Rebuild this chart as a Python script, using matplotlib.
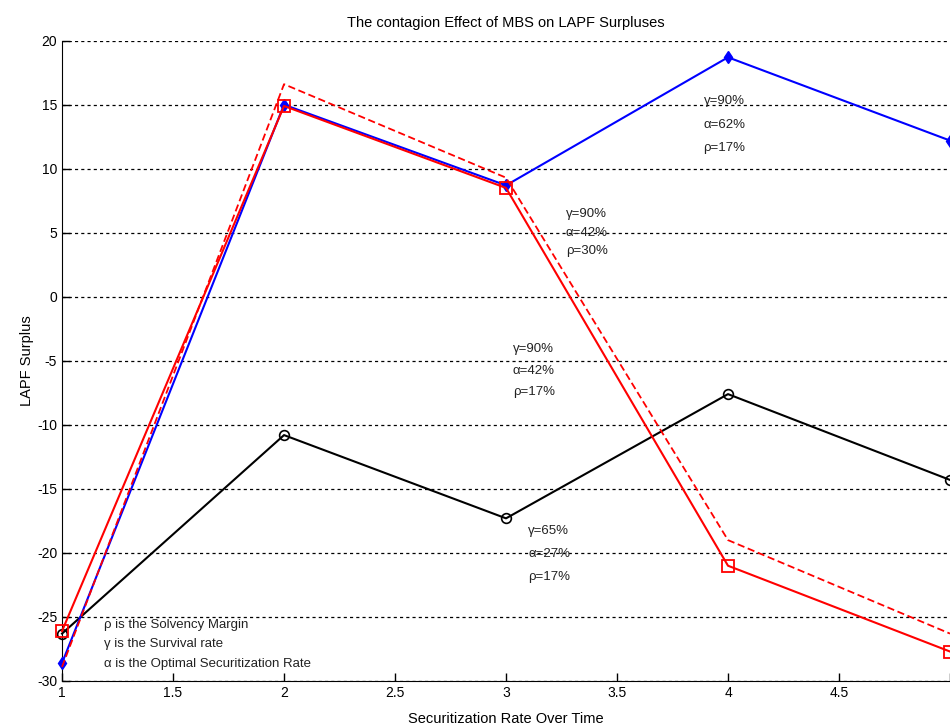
import numpy as np
import matplotlib.pyplot as plt

plt.rcParams['font.family'] = ['Liberation Sans', 'DejaVu Sans']
plt.rcParams['axes.unicode_minus'] = False

x = [1, 2, 3, 4, 5]
blue = [-28.6, 15.0, 8.7, 18.7, 12.2]
red_solid = [-26.1, 14.9, 8.5, -21.0, -27.7]
red_dash = [-28.9, 16.6, 9.3, -19.0, -26.3]
black = [-26.3, -10.8, -17.3, -7.6, -14.3]

notes = [
    (3.89, [15.3, 13.4, 11.6], ["γ=90%", "α=62%", "ρ=17%"]),
    (3.27, [6.5, 5.0, 3.6], ["γ=90%", "α=42%", "ρ=30%"]),
    (3.03, [-4.1, -5.8, -7.4], ["γ=90%", "α=42%", "ρ=17%"]),
    (3.10, [-18.3, -20.1, -21.9], ["γ=65%", "α=27%", "ρ=17%"]),
    (1.19, [-25.6, -27.1, -28.7], ["ρ is the Solvency Margin",
                                   "γ is the Survival rate",
                                   "α is the Optimal Securitization Rate"]),
]

fig = plt.figure(figsize=(9.5, 7.26), dpi=100)
ax = fig.add_axes([0.0653, 0.062, 0.9347, 0.882])

ax.plot(x, black, color="black", lw=1.5, marker="o", ms=7, mfc="none",
        mec="black", mew=1.2, clip_on=False, zorder=3)
ax.plot(x, blue, color="blue", lw=1.5, marker="d", ms=6, mfc="blue",
        mec="blue", clip_on=False, zorder=3)
ax.plot(x, red_solid, color="red", lw=1.5, marker="s", ms=8, mfc="none",
        mec="red", mew=1.3, clip_on=False, zorder=4)
ax.plot(x, red_dash, color="red", lw=1.3, ls="--", dashes=(4, 2),
        clip_on=False, zorder=4)

for xx, ys, lines in notes:
    for yy, t in zip(ys, lines):
        ax.text(xx, yy, t, fontsize=9.5, va="center", ha="left", color="#222222")

ax.set_xlim(1, 5)
ax.set_ylim(-30, 20)
ax.set_xticks(np.arange(1, 5.01, 0.5))
ax.set_xticklabels(["1", "1.5", "2", "2.5", "3", "3.5", "4", "4.5", ""])
ax.set_yticks(np.arange(-30, 21, 5))
ax.yaxis.grid(True, color="black", ls=(0, (2.5, 2.5)), lw=0.9)
ax.set_axisbelow(True)
ax.tick_params(direction="in", length=6, labelsize=10, width=1)
ax.spines["top"].set_visible(False)
ax.spines["right"].set_visible(False)
ax.set_title("The contagion Effect of MBS on LAPF Surpluses", fontsize=10.5, pad=10)
ax.set_xlabel("Securitization Rate Over Time", fontsize=10.5, labelpad=9)
ax.set_ylabel("LAPF Surplus", fontsize=10.5, labelpad=2)

fig.savefig("out.png", dpi=100)
